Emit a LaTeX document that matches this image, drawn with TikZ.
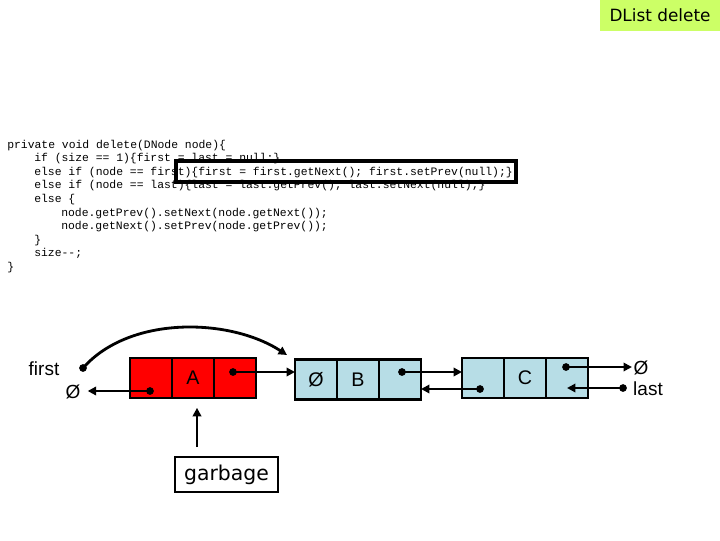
\documentclass[tikz,border=0pt]{standalone}
\usepackage{fontspec}
\setmainfont{Liberation Sans}
\setmonofont{Liberation Mono}
\newfontfamily\handfont{DejaVu Sans}
\usetikzlibrary{arrows.meta, positioning}

\definecolor{cellblue}{RGB}{183,221,230}
\definecolor{titlegreen}{RGB}{204,255,102}

\begin{document}
\begin{tikzpicture}[x=0.025cm, y=-0.025cm,
        cell/.style={rectangle, draw=black, line width=1.6pt, minimum width=1.05cm,
        minimum height=1cm, inner sep=0pt, outer sep=0pt, font=\fontsize{14}{16}\selectfont},
        redcell/.style={cell, fill=red},
        bluecell/.style={cell, fill=cellblue},
        dot/.style={circle, fill=black, inner sep=0pt, minimum size=5.5pt},
        ptr/.style={-{Triangle[length=6pt,width=6pt]}, line width=2pt},
        lbl/.style={font=\fontsize{13.5}{15}\selectfont, inner sep=1pt},
        codeline/.style={anchor=base west, inner sep=0pt,
        font=\ttfamily\fontsize{8.1}{9.6}\selectfont, text=black},
        hl/.style={draw=black, line width=2.5pt}
            ]

            \useasboundingbox (0,0) rectangle (720,540);

            % Title
            \node[fill=titlegreen, minimum width=3cm, minimum height=0.775cm,
                font=\handfont\fontsize{12}{14}\selectfont] (title) at (660,15.5) {DList delete};

            % Code
            \node[codeline] (c1)  at (7,148)    {private void delete(DNode node)\{};
            \node[codeline] (c2)  at (34,161.6) {if (size == 1)\{first = last = null;\}};
            \node[codeline] (c3)  at (34,175.2) {else if (node == first)\{first = first.getNext(); first.setPrev(null);\}};
            \node[codeline] (c4)  at (34,188.8) {else if (node == last)\{last = last.getPrev(); last.setNext(null);\}};
            \node[codeline] (c5)  at (34,202.4) {else \{};
            \node[codeline] (c6)  at (61,216)   {node.getPrev().setNext(node.getNext());};
            \node[codeline] (c7)  at (61,229.6) {node.getNext().setPrev(node.getPrev());};
            \node[codeline] (c8)  at (34,243.2) {\}};
            \node[codeline] (c9)  at (34,256.8) {size-{}-;};
            \node[codeline] (c10) at (7,270.4)  {\}};

            % Highlight of the first-node branch
            \draw[hl] (176,161) rectangle (516,182);

            % Node A (removed)
            \node[redcell] (aPrev) at (151,378) {};
            \node[redcell, right=0pt of aPrev] (aVal) {A};
            \node[redcell, right=0pt of aVal] (aNext) {};

            % Node B
            \node[bluecell] (bPrev) at (316,379.5) {Ø};
            \node[bluecell, right=0pt of bPrev] (bVal) {B};
            \node[bluecell, right=0pt of bVal] (bNext) {};

            % Node C
            \node[bluecell] (cPrev) at (483,378) {};
            \node[bluecell, right=0pt of cPrev] (cVal) {C};
            \node[bluecell, right=0pt of cVal] (cNext) {};

            % Labels
            \node[lbl] (firstLbl) at (44,369) {first};
            \node[lbl] (lastLbl)  at (648,389) {last};
            \node[lbl] (nullA)    at (73,392) {Ø};
            \node[lbl] (nullC)    at (641,368) {Ø};

            % Pointer dots
            \node[dot] (firstDot) at (83,368) {};
            \node[dot] (aPrevDot) at (150,391) {};
            \node[dot] (aNextDot) at (233,372) {};
            \node[dot] (bNextDot) at (402,372) {};
            \node[dot] (cPrevDot) at (480,389) {};
            \node[dot] (cNextDot) at (566,367) {};
            \node[dot] (lastDot)  at (623,388) {};

            % Links
            \draw[ptr] (aNextDot.center) -- (aNextDot.center -| bPrev.west);
            \draw[ptr, shorten >=4pt] (aPrevDot.center) -- (aPrevDot.center -| nullA.east);
            \draw[ptr] (bNextDot.center) -- (bNextDot.center -| cPrev.west);
            \draw[ptr] (cPrevDot.center) -- (cPrevDot.center -| bNext.east);
            \draw[ptr] (cNextDot.center) -- (cNextDot.center -| nullC.west);
            \draw[ptr] (lastDot.center) -- (lastDot.center -| cNext.center);

            % first now points to B
            \coordinate (firstTip) at (287,355);
            \draw[ptr] (firstDot.center) .. controls (130,315) and (230,318) .. (firstTip);

            % Garbage
            \node[draw=black, line width=0.8pt, fill=white, minimum width=2.575cm,
                minimum height=0.875cm, inner sep=0pt,
                font=\handfont\fontsize{14.5}{16}\selectfont] (garbage) at (226.5,474.5) {garbage};
            \coordinate (garbTail) at (197,447);
            \draw[ptr, shorten >=7pt] (garbTail) -- (garbTail |- aVal.south);

        \end{tikzpicture}
\end{document}
